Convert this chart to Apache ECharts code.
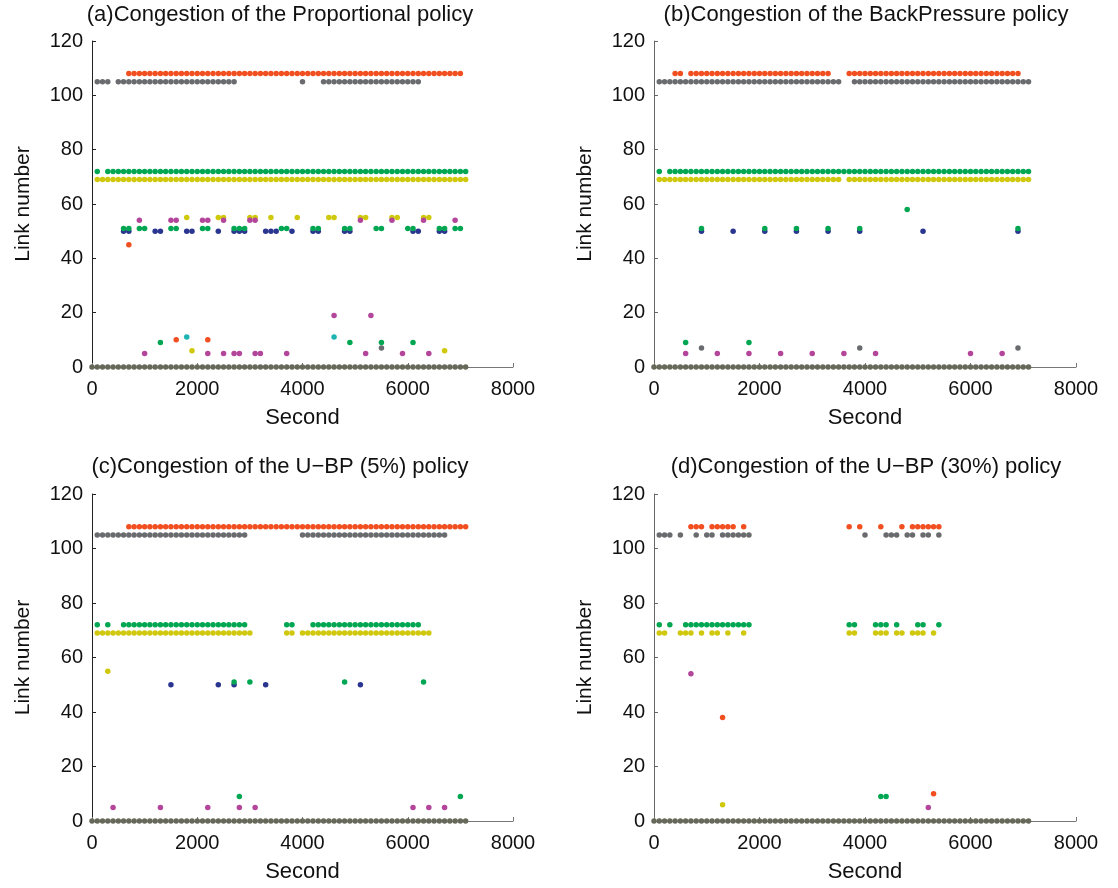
<!DOCTYPE html>
<html>
<head>
<meta charset="utf-8">
<script src="https://cdn.jsdelivr.net/npm/echarts@6/dist/echarts.min.js"></script>
<style>
  html, body { margin: 0; background: #fff; }
  #chart { width: 1118px; height: 888px; }
</style>
</head>
<body>
<div id="chart"></div>
<script>
// sampling step of the simulation, seconds
var STEP = 100

var titles = [
  '(a)Congestion of the Proportional policy',
  '(b)Congestion of the BackPressure policy',
  '(c)Congestion of the U\u2212BP (5%) policy',
  '(d)Congestion of the U\u2212BP (30%) policy'
]
var xTicks = [0, 2000, 4000, 6000, 8000]
var yTicks = [0, 20, 40, 60, 80, 100, 120]

// congested sample times per link number
// an entry is one sample time, or [first, last] for an unbroken run of samples
// (a) Proportional
var a108 = [[700, 7000]]
var a105 = [[100, 300], [500, 2700], 4000, [4400, 6200]]
var a72 = [100, [300, 7100]]
var a69 = [[100, 7100]]
var a55 = [1800, 2400, 2500, 3000, 3100, 3400, 3900, 4500, 4600, 5100, 5200, 5700, 5800, 6300, 6400]
var a54 = [900, 1500, 1600, 2100, 2200, 2500, 3000, 3100, 5100, 5700, 6300, 6900]
var a50 = [600, 700, 1200, 1300, 1800, 1900, 2400, 2700, 2800, 2900, 3300, 3400, 3500, 3800, 4200, 4300, 4800, 4900, 6100, 6200, 6600, 6700]
var a51 = [600, 700, 900, 1000, 1500, 1600, 2100, 2200, 2700, 2800, 2900, 3600, 3700, 4200, 4300, 4800, 4900, 5400, 5500, 6000, 6100, 6600, 6700, 6900, 7000]
var a45 = [700]
var a19 = [4600, 5300]
var a11 = [1800, 4600]
var a10 = [1600, 2200]
var a9 = [1300, 4900, 5500, 6100]
var a7 = [5500]
var a6 = [1900, 6700]
var a5 = [1000, 2200, 2500, 2700, 2800, 3100, 3200, 3700, 5200, 5900, 6400]
var a0 = [[0, 7100]]

// (b) BackPressure
var b108 = [400, 500, [700, 3300], [3700, 6900]]
var b105 = [[100, 3500], [3800, 7100]]
var b72 = [100, [300, 7100]]
var b69 = [[100, 3500], [3700, 7100]]
var b58 = [4800]
var b50 = [900, 1500, 2100, 2700, 3300, 3900, 5100, 6900]
var b51 = [900, 2100, 2700, 3300, 3900, 6900]
var b9 = [600, 1800]
var b7 = [900, 3900, 6900]
var b5 = [600, 1200, 1800, 2400, 3000, 3600, 4200, 6000, 6600]
var b0 = [[0, 7100]]

// (c) U-BP 5%
var c108 = [[700, 7100]]
var c105 = [[100, 2900], [4000, 6700]]
var c72 = [100, 300, [600, 2900], 3700, 3800, [4200, 6200]]
var c69 = [[100, 3000], 3700, 3800, [4000, 6400]]
var c55 = [300]
var c50 = [1500, 2400, 2700, 3300, 5100]
var c51 = [2700, 3000, 4800, 6300]
var c9 = [2800, 7000]
var c5 = [400, 1300, 2200, 2800, 3100, 6100, 6400, 6700]
var c0 = [[0, 7100]]

// (d) U-BP 30%
var d108 = [700, 800, 900, [1100, 1500], 1700, 3700, 3900, 4300, 4700, [4900, 5400]]
var d105 = [100, 200, 300, 500, 800, 1000, 1100, [1300, 1800], 4000, 4400, 4500, 4600, 4800, 4900, 5100, 5200, 5400]
var d72 = [100, 300, [600, 1800], 3700, 3800, 4200, 4300, 4400, 4600, 5000, 5100, 5400]
var d69 = [100, 200, 500, 600, 700, 900, 1100, 1200, 1400, 1700, 3700, 3800, 4200, 4300, 4400, 4600, 4700, 4900, 5000, 5100, 5300]
var d54 = [700]
var d38 = [1300]
var d10 = [5300]
var d9 = [4300, 4400]
var d6 = [1300]
var d5 = [5200]
var d0 = [[0, 7100]]

var linkColor = {
  108: '#f24f21', 105: '#6a6b6e', 72: '#00a651', 69: '#cfc80c', 58: '#00a651',
  55: '#cfc80c', 54: '#b3459b', 51: '#00a651', 50: '#2a3590', 45: '#f24f21',
  38: '#f24f21', 19: '#b3459b', 11: '#1eb4b4', 10: '#f24f21', 9: '#00a651',
  7: '#6a6b6e', 6: '#cfc80c', 5: '#b3459b', 0: '#66695a'
}

var panels = [
  {
    grid: { left: 92, top: 41, width: 421, height: 326 }, titleX: 280, titleY: 4, axisColor: '#222',
    links: [[108, a108], [105, a105], [72, a72], [69, a69], [55, a55], [54, a54], [50, a50], [51, a51],
      [45, a45], [19, a19], [11, a11], [10, a10], [9, a9], [7, a7], [6, a6], [5, a5], [0, a0]]
  },
  {
    grid: { left: 654, top: 41, width: 422, height: 326 }, titleX: 866, titleY: 4, axisColor: '#666',
    links: [[108, b108], [105, b105], [72, b72], [69, b69], [58, b58], [50, b50], [51, b51],
      [9, b9], [7, b7], [5, b5], [0, b0]]
  },
  {
    grid: { left: 92, top: 494, width: 421, height: 327 }, titleX: 280, titleY: 456, axisColor: '#222',
    links: [[108, c108], [105, c105], [72, c72], [69, c69], [55, c55], [50, c50], [51, c51],
      [9, c9], [5, c5], [0, c0]]
  },
  {
    grid: { left: 654, top: 494, width: 422, height: 327 }, titleX: 866, titleY: 456, axisColor: '#666',
    links: [[108, d108], [105, d105], [72, d72], [69, d69], [54, d54], [38, d38],
      [10, d10], [9, d9], [6, d6], [5, d5], [0, d0]]
  }
]

function expand(spans, link) {
  var out = []
  spans.forEach(function(s) {
    if (Array.isArray(s)) {
      for (var t = s[0]; t <= s[1]; t += STEP) out.push([t, link])
    } else {
      out.push([s, link])
    }
  })
  return out
}

var FONT = 'Liberation Sans, Arial, Helvetica, sans-serif'

var option = {
  animation: false,
  backgroundColor: '#fff',
  textStyle: { fontFamily: FONT },
  title: [],
  grid: [],
  xAxis: [],
  yAxis: [],
  series: []
}

panels.forEach(function(p, i) {
  option.title.push({
    text: titles[i],
    left: p.titleX,
    top: p.titleY,
    textAlign: 'center',
    padding: 0,
    textStyle: { fontFamily: FONT, fontSize: 22, fontWeight: 'normal', color: '#111' }
  })
  option.grid.push(p.grid)
  option.xAxis.push({
    gridIndex: i,
    type: 'value',
    min: xTicks[0],
    max: xTicks[xTicks.length - 1],
    interval: xTicks[1] - xTicks[0],
    name: 'Second',
    nameLocation: 'middle',
    nameGap: 40,
    nameTextStyle: { fontFamily: FONT, fontSize: 22, color: '#111' },
    axisLine: { lineStyle: { color: '#777', width: 1 } },
    axisTick: { inside: true, length: 4, lineStyle: { color: '#777' } },
    axisLabel: {
      fontFamily: FONT, fontSize: 20, color: '#111', margin: 12,
      formatter: function(v) { return String(v) }
    },
    splitLine: { show: false }
  })
  option.yAxis.push({
    gridIndex: i,
    type: 'value',
    min: yTicks[0],
    max: yTicks[yTicks.length - 1],
    interval: yTicks[1] - yTicks[0],
    name: 'Link number',
    nameLocation: 'middle',
    nameGap: 58,
    nameTextStyle: { fontFamily: FONT, fontSize: 21, color: '#111' },
    axisLine: { show: true, lineStyle: { color: p.axisColor, width: 1 } },
    axisTick: { show: true, inside: true, length: 4, lineStyle: { color: p.axisColor } },
    axisLabel: { fontFamily: FONT, fontSize: 20, color: '#111', margin: 9 },
    splitLine: { show: false }
  })
  p.links.forEach(function(l) {
    option.series.push({
      type: 'scatter',
      name: 'link ' + l[0],
      xAxisIndex: i,
      yAxisIndex: i,
      symbol: 'circle',
      symbolSize: 5.5,
      itemStyle: { color: linkColor[l[0]], opacity: 1 },
      data: expand(l[1], l[0])
    })
  })
})

var chart = echarts.init(document.getElementById('chart'))
chart.setOption(option)
</script>
</body>
</html>
